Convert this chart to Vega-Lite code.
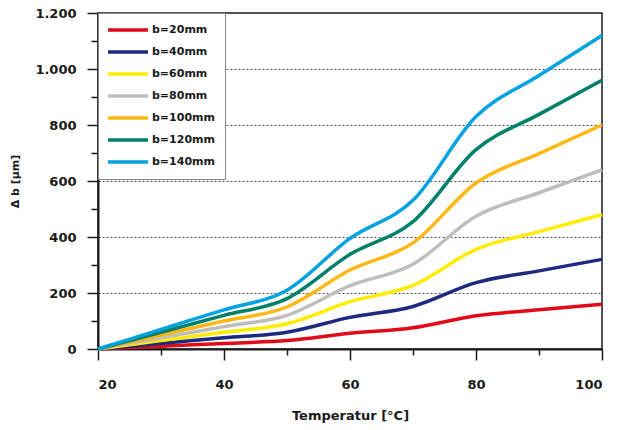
{
  "$schema": "https://vega.github.io/schema/vega-lite/v6.json",
  "width": 504,
  "height": 336,
  "autosize": {"type": "none"},
  "padding": {"left": 98, "top": 13, "right": 16, "bottom": 81},
  "background": "white",
  "config": {"view": {"stroke": "#1a1a1a", "strokeWidth": 1.5}, "font": "DejaVu Sans"},
  "data": {"values": [
    {"T": 20, "b": "b=20mm", "v": 0}, {"T": 30, "b": "b=20mm", "v": 10}, {"T": 40, "b": "b=20mm", "v": 20}, {"T": 50, "b": "b=20mm", "v": 30}, {"T": 60, "b": "b=20mm", "v": 56}, {"T": 70, "b": "b=20mm", "v": 76}, {"T": 80, "b": "b=20mm", "v": 119}, {"T": 90, "b": "b=20mm", "v": 140}, {"T": 100, "b": "b=20mm", "v": 160},
    {"T": 20, "b": "b=40mm", "v": 0}, {"T": 30, "b": "b=40mm", "v": 20}, {"T": 40, "b": "b=40mm", "v": 40}, {"T": 50, "b": "b=40mm", "v": 60}, {"T": 60, "b": "b=40mm", "v": 113}, {"T": 70, "b": "b=40mm", "v": 152}, {"T": 80, "b": "b=40mm", "v": 237}, {"T": 90, "b": "b=40mm", "v": 279}, {"T": 100, "b": "b=40mm", "v": 320},
    {"T": 20, "b": "b=60mm", "v": 0}, {"T": 30, "b": "b=60mm", "v": 30}, {"T": 40, "b": "b=60mm", "v": 60}, {"T": 50, "b": "b=60mm", "v": 90}, {"T": 60, "b": "b=60mm", "v": 169}, {"T": 70, "b": "b=60mm", "v": 227}, {"T": 80, "b": "b=60mm", "v": 356}, {"T": 90, "b": "b=60mm", "v": 419}, {"T": 100, "b": "b=60mm", "v": 480},
    {"T": 20, "b": "b=80mm", "v": 0}, {"T": 30, "b": "b=80mm", "v": 40}, {"T": 40, "b": "b=80mm", "v": 80}, {"T": 50, "b": "b=80mm", "v": 120}, {"T": 60, "b": "b=80mm", "v": 226}, {"T": 70, "b": "b=80mm", "v": 303}, {"T": 80, "b": "b=80mm", "v": 474}, {"T": 90, "b": "b=80mm", "v": 558}, {"T": 100, "b": "b=80mm", "v": 640},
    {"T": 20, "b": "b=100mm", "v": 0}, {"T": 30, "b": "b=100mm", "v": 50}, {"T": 40, "b": "b=100mm", "v": 100}, {"T": 50, "b": "b=100mm", "v": 150}, {"T": 60, "b": "b=100mm", "v": 282}, {"T": 70, "b": "b=100mm", "v": 379}, {"T": 80, "b": "b=100mm", "v": 593}, {"T": 90, "b": "b=100mm", "v": 698}, {"T": 100, "b": "b=100mm", "v": 800},
    {"T": 20, "b": "b=120mm", "v": 0}, {"T": 30, "b": "b=120mm", "v": 60}, {"T": 40, "b": "b=120mm", "v": 120}, {"T": 50, "b": "b=120mm", "v": 180}, {"T": 60, "b": "b=120mm", "v": 338}, {"T": 70, "b": "b=120mm", "v": 455}, {"T": 80, "b": "b=120mm", "v": 712}, {"T": 90, "b": "b=120mm", "v": 838}, {"T": 100, "b": "b=120mm", "v": 960},
    {"T": 20, "b": "b=140mm", "v": 0}, {"T": 30, "b": "b=140mm", "v": 70}, {"T": 40, "b": "b=140mm", "v": 140}, {"T": 50, "b": "b=140mm", "v": 210}, {"T": 60, "b": "b=140mm", "v": 395}, {"T": 70, "b": "b=140mm", "v": 531}, {"T": 80, "b": "b=140mm", "v": 830}, {"T": 90, "b": "b=140mm", "v": 977}, {"T": 100, "b": "b=140mm", "v": 1120}
  ]},
  "mark": {"type": "line", "interpolate": "monotone", "strokeWidth": 3.5},
  "encoding": {
    "x": {
      "field": "T", "type": "quantitative",
      "scale": {"domain": [20, 100], "nice": false, "zero": false},
      "axis": {
        "values": [20, 30, 40, 50, 60, 70, 80, 90, 100],
        "grid": false,
        "title": "Temperatur [°C]",
        "labelExpr": "datum.value % 20 == 0 ? datum.label : ''",
        "tickSize": {"condition": {"test": "datum.value % 20 == 0", "value": 11}, "value": 6},
        "domainColor": "#1a1a1a", "domainWidth": 2,
        "tickColor": "#1a1a1a", "tickWidth": 1.5,
        "labelFont": "DejaVu Sans", "labelFontWeight": "bold", "labelFontSize": 13, "labelColor": "#1a1a1a",
        "labelPadding": 18,
        "titleFont": "DejaVu Sans", "titleFontSize": 13, "titleFontWeight": "bold", "titleColor": "#1a1a1a",
        "titlePadding": 18
      }
    },
    "y": {
      "field": "v", "type": "quantitative",
      "scale": {"domain": [0, 1200], "nice": false},
      "axis": {
        "values": [0, 100, 200, 300, 400, 500, 600, 700, 800, 900, 1000, 1100, 1200],
        "title": "Δ b [µm]",
        "labelExpr": "datum.value % 200 == 0 ? replace(format(datum.value, ','), ',', '.') : ''",
        "tickSize": {"condition": {"test": "datum.value % 200 == 0", "value": 11}, "value": 7},
        "grid": true,
        "gridDash": [2, 2],
        "gridColor": "#555555",
        "gridWidth": 1,
        "gridOpacity": {"condition": {"test": "datum.value % 200 == 0 && datum.value > 0 && datum.value < 1200", "value": 1}, "value": 0},
        "domainColor": "#1a1a1a", "domainWidth": 2,
        "tickColor": "#1a1a1a", "tickWidth": 1.5,
        "labelFont": "DejaVu Sans", "labelFontWeight": "bold", "labelFontSize": 13, "labelColor": "#1a1a1a",
        "labelPadding": 11,
        "titleFont": "DejaVu Sans", "titleFontSize": 11, "titleFontWeight": "bold", "titleColor": "#1a1a1a",
        "titlePadding": 14
      }
    },
    "color": {
      "field": "b", "type": "nominal",
      "sort": ["b=20mm", "b=40mm", "b=60mm", "b=80mm", "b=100mm", "b=120mm", "b=140mm"],
      "scale": {
        "domain": ["b=20mm", "b=40mm", "b=60mm", "b=80mm", "b=100mm", "b=120mm", "b=140mm"],
        "range": ["#E30A17", "#1C2A80", "#FFEC00", "#BEBEBE", "#FDB813", "#00806A", "#00A2E0"]
      },
      "legend": {
        "orient": "none", "legendX": 0, "legendY": 0,
        "title": null,
        "strokeColor": "#888888", "fillColor": "white",
        "padding": 10,
        "symbolType": "M-1.4,0H6.6", "symbolSize": 100, "symbolStrokeWidth": 3.5,
        "labelFont": "DejaVu Sans", "labelFontSize": 11, "labelFontWeight": "bold", "labelColor": "#1a1a1a",
        "labelOffset": 30,
        "rowPadding": 8
      }
    }
  }
}
